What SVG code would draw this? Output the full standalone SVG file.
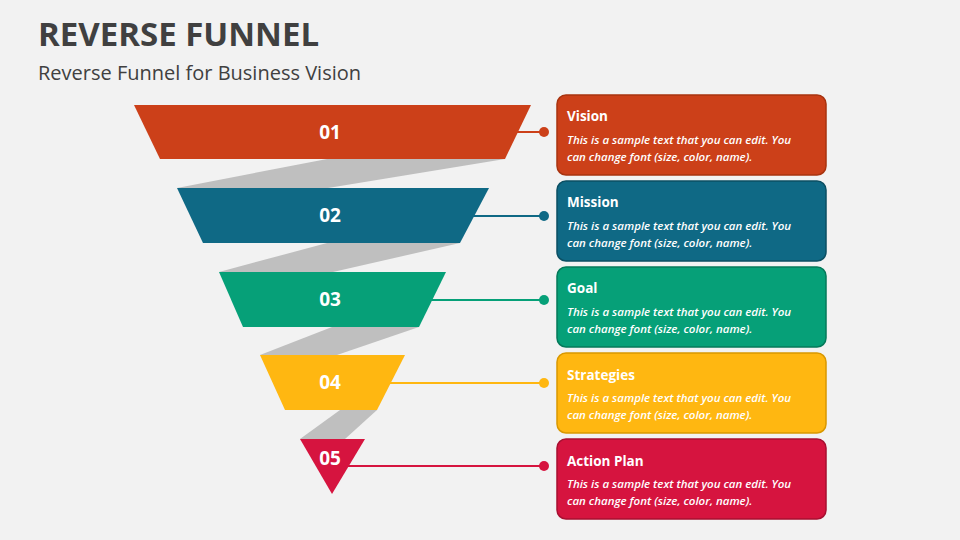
<svg xmlns="http://www.w3.org/2000/svg" width="960" height="540" viewBox="0 0 960 540">
<style>
.t{font-family:"Open Sans","Liberation Sans",sans-serif}
.num{font-family:"Open Sans","Liberation Sans",sans-serif;font-weight:bold;font-size:19px;fill:#fff;text-anchor:middle}
.bh{font-family:"Open Sans","Liberation Sans",sans-serif;font-weight:bold;font-size:13.5px;fill:#fff}
.bt{font-family:"Open Sans","Liberation Sans",sans-serif;font-style:italic;font-weight:600;font-size:11.5px;fill:#fff}
.g{fill:#BFBFBF}
</style>
<rect width="960" height="540" fill="#F2F2F2"/>
<text x="38" y="46" class="t" font-size="33" font-weight="bold" fill="#404040">REVERSE FUNNEL</text>
<text x="38" y="80" class="t" font-size="20" fill="#404040">Reverse Funnel for Business Vision</text>
<g id="bands">
<polygon class="g" points="327,159 505,159 328,188 177,188"/>
<polygon class="g" points="327,243 460,243 333,272 219,272"/>
<polygon class="g" points="332,327 419,327 337,355 260,355"/>
<polygon class="g" points="340,410 377,410 345,439 300,439"/>
</g>
<g id="connectors" stroke-width="2">
<line x1="505" y1="132" x2="544" y2="132" stroke="#CC4019"/><circle cx="544" cy="132" r="5" fill="#CC4019"/>
<line x1="470" y1="216" x2="544" y2="216" stroke="#0F6985"/><circle cx="544" cy="216" r="5" fill="#0F6985"/>
<line x1="430" y1="300" x2="544" y2="300" stroke="#06A078"/><circle cx="544" cy="300" r="5" fill="#06A078"/>
<line x1="388" y1="383" x2="544" y2="383" stroke="#FFB711"/><circle cx="544" cy="383" r="5" fill="#FFB711"/>
<line x1="346" y1="466" x2="544" y2="466" stroke="#D6143F"/><circle cx="544" cy="466" r="5" fill="#D6143F"/>
</g>
<g id="tier1"><polygon points="134,105 531,105 505,159 160,159" fill="#CC4019"/><text x="330" y="139" class="num">01</text></g>
<g id="tier2"><polygon points="177,188 489,188 460,243 203,243" fill="#0F6985"/><text x="330" y="222" class="num">02</text></g>
<g id="tier3"><polygon points="219,272 446,272 419,327 243,327" fill="#06A078"/><text x="330" y="306" class="num">03</text></g>
<g id="tier4"><polygon points="260,355 405,355 377,410 285,410" fill="#FFB711"/><text x="330" y="389" class="num">04</text></g>
<g id="tier5"><polygon points="300,439 365,439 332,494" fill="#D6143F"/><text x="330" y="465" class="num">05</text></g>
<g id="box1"><rect x="557" y="95" width="269" height="80" rx="9" fill="#CC4019" stroke="#A8330F" stroke-width="1.5"/><text x="567" y="121" class="bh">Vision</text><text x="567" y="144" class="bt">This is a sample text that you can edit. You</text><text x="567" y="161" class="bt">can change font (size, color, name).</text></g>
<g id="box2"><rect x="557" y="181" width="269" height="80" rx="9" fill="#0F6985" stroke="#0B4F63" stroke-width="1.5"/><text x="567" y="207" class="bh">Mission</text><text x="567" y="230" class="bt">This is a sample text that you can edit. You</text><text x="567" y="247" class="bt">can change font (size, color, name).</text></g>
<g id="box3"><rect x="557" y="267" width="269" height="80" rx="9" fill="#06A078" stroke="#04795A" stroke-width="1.5"/><text x="567" y="293" class="bh">Goal</text><text x="567" y="316" class="bt">This is a sample text that you can edit. You</text><text x="567" y="333" class="bt">can change font (size, color, name).</text></g>
<g id="box4"><rect x="557" y="353" width="269" height="80" rx="9" fill="#FFB711" stroke="#D99800" stroke-width="1.5"/><text x="567" y="380" class="bh">Strategies</text><text x="567" y="402" class="bt">This is a sample text that you can edit. You</text><text x="567" y="419" class="bt">can change font (size, color, name).</text></g>
<g id="box5"><rect x="557" y="439" width="269" height="80" rx="9" fill="#D6143F" stroke="#A80F31" stroke-width="1.5"/><text x="567" y="466" class="bh">Action Plan</text><text x="567" y="488" class="bt">This is a sample text that you can edit. You</text><text x="567" y="505" class="bt">can change font (size, color, name).</text></g>
</svg>
